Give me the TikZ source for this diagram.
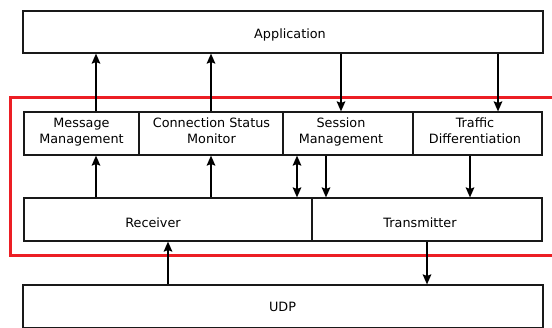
\documentclass[tikz,border=0pt]{standalone}
\usepackage{fontspec}
\setmainfont{DejaVu Sans}
\usetikzlibrary{arrows.meta}
\definecolor{frame}{RGB}{236,30,36}
\begin{document}
\begin{tikzpicture}[x=1pt,y=-1pt,
  box/.style={draw=black!90,line width=1.1pt,rectangle,inner sep=0pt},
  lbl/.style={inner sep=0pt,anchor=base,align=center,
    font=\fontsize{12.8}{16.3}\selectfont},
  arr/.style={line width=2pt,-{Stealth[length=10pt,width=8.5pt,inset=1.5pt]}},
  dbl/.style={line width=2pt,{Stealth[length=10pt,width=8.5pt,inset=1.5pt]}-{Stealth[length=10pt,width=8.5pt,inset=1.5pt]}}]
\useasboundingbox (0,0) rectangle (552,327);
\clip (0,0) rectangle (552,327);
\fill[white] (0,0) rectangle (552,327);

% module frame
\draw[frame,line width=3pt] (10,97.5) rectangle (570,255);

% layer boxes
\node[box,minimum width=520pt,minimum height=42pt] (app) at (283,32) {};
\node[box,minimum width=115pt,minimum height=43pt] (mm)  at (81.5,133.5) {};
\node[box,minimum width=144pt,minimum height=43pt] (csm) at (211,133.5) {};
\node[box,minimum width=130pt,minimum height=43pt] (sm)  at (348,133.5) {};
\node[box,minimum width=129pt,minimum height=43pt] (td)  at (477.5,133.5) {};
\node[box,minimum width=288pt,minimum height=43pt] (rx)  at (168,219.5) {};
\node[box,minimum width=230pt,minimum height=43pt] (tx)  at (427,219.5) {};
\node[box,minimum width=520pt,minimum height=43pt] (udp) at (283,306.5) {};

% box captions (base = last line's baseline)
\node[lbl] (appl) at (290,38.8) {Application};
\node[lbl] (mml)  at (81.5,143.3) {Message\\Management};
\node[lbl] (csml) at (211.5,143.3) {Connection Status\\Monitor};
\node[lbl] (sml)  at (341,143.3) {Session\\Management};
\node[lbl] (tdl)  at (475,143.3) {Traffic\\Differentiation};
\node[lbl] (rxl)  at (153,227.8) {Receiver};
\node[lbl] (txl)  at (420,227.8) {Transmitter};
\node[lbl] (udpl) at (282.5,311.5) {UDP};

% upward flows
\draw[arr] (mm.north -| 96,0) -- (app.south -| 96,0);
\draw[arr] (csm.north -| 211,0) -- (app.south -| 211,0);
\draw[arr] (rx.north -| 96,0) -- (mm.south -| 96,0);
\draw[arr] (rx.north -| 211,0) -- (csm.south -| 211,0);
\draw[arr] (udp.north -| 168,0) -- (rx.south -| 168,0);

% downward flows
\draw[arr] (app.south -| 341,0) -- (sm.north -| 341,0);
\draw[arr] (app.south -| 498,0) -- (td.north -| 498,0);
\draw[arr] (sm.south -| 326,0) -- (tx.north -| 326,0);
\draw[arr] (td.south -| 470,0) -- (tx.north -| 470,0);
\draw[arr] (tx.south -| 427,0) -- (udp.north -| 427,0);

% two-way link
\draw[dbl] (sm.south -| 297,0) -- (rx.north -| 297,0);
\end{tikzpicture}
\end{document}
